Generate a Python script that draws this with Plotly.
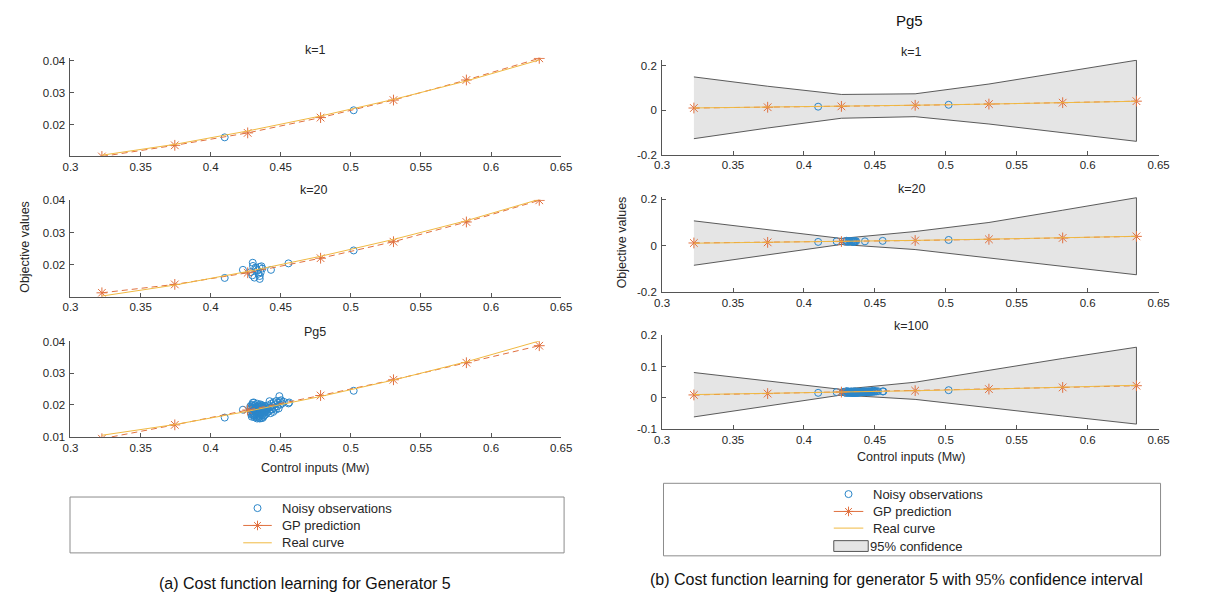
import plotly.graph_objects as go

W, H = 1205, 603

# Sampled control inputs (Mw) where the GP is evaluated
x_pts = [0.3224, 0.3744, 0.4264, 0.4784, 0.5304, 0.5824, 0.6344]

# True cost curve of generator 5
real_curve = [0.0104, 0.0138, 0.0180, 0.0227, 0.0279, 0.0337, 0.0403]

# GP posterior mean after k observations
gp_k1 = [0.0100, 0.0135, 0.0174, 0.0222, 0.0277, 0.0340, 0.0408]
gp_k20 = [0.0114, 0.0140, 0.0176, 0.0221, 0.0272, 0.0333, 0.0400]
gp_k100 = [0.0093, 0.0137, 0.0184, 0.0230, 0.0280, 0.0334, 0.0388]

# 95% confidence bounds
ci_up_k1 = [0.150, 0.108, 0.071, 0.074, 0.118, 0.170, 0.225]
ci_lo_k1 = [-0.128, -0.080, -0.036, -0.029, -0.062, -0.100, -0.140]
ci_up_k20 = [0.107, 0.070, 0.031, 0.061, 0.100, 0.153, 0.207]
ci_lo_k20 = [-0.085, -0.040, 0.005, -0.017, -0.055, -0.090, -0.126]
ci_up_k100 = [0.081, 0.054, 0.027, 0.050, 0.089, 0.126, 0.162]
ci_lo_k100 = [-0.061, -0.027, 0.009, -0.005, -0.032, -0.058, -0.084]

# Noisy observations in sampling order (first 2, 20, 100 used per panel)
obs_x = [
    0.4100, 0.5020, 0.4230, 0.4300, 0.4302, 0.4285, 0.4297, 0.4320, 0.4335, 0.4348,
    0.4357, 0.4350, 0.4350, 0.4312, 0.4430, 0.4555, 0.4368, 0.4340, 0.4325, 0.4362,
    0.4280, 0.4290, 0.4295, 0.4305, 0.4310, 0.4315, 0.4318, 0.4322, 0.4328, 0.4330,
    0.4333, 0.4338, 0.4340, 0.4343, 0.4345, 0.4352, 0.4355, 0.4360, 0.4363, 0.4366,
    0.4370, 0.4373, 0.4377, 0.4380, 0.4385, 0.4388, 0.4392, 0.4395, 0.4398, 0.4288,
    0.4293, 0.4300, 0.4308, 0.4312, 0.4326, 0.4331, 0.4336, 0.4347, 0.4350, 0.4358,
    0.4362, 0.4368, 0.4371, 0.4375, 0.4382, 0.4390, 0.4283, 0.4298, 0.4303, 0.4318,
    0.4342, 0.4354, 0.4365, 0.4378, 0.4402, 0.4405, 0.4410, 0.4415, 0.4420, 0.4425,
    0.4428, 0.4433, 0.4438, 0.4442, 0.4446, 0.4450, 0.4455, 0.4460, 0.4465, 0.4470,
    0.4475, 0.4480, 0.4485, 0.4490, 0.4494, 0.4498, 0.4503, 0.4510, 0.4522, 0.4560,
]
obs_y = [
    0.0160, 0.0245, 0.0185, 0.0207, 0.0197, 0.0178, 0.0168, 0.0192, 0.0183, 0.0194,
    0.0177, 0.0166, 0.0157, 0.0161, 0.0185, 0.0205, 0.0189, 0.0173, 0.0187, 0.0196,
    0.0185, 0.0192, 0.0201, 0.0175, 0.0188, 0.0199, 0.0170, 0.0181, 0.0163, 0.0195,
    0.0204, 0.0176, 0.0186, 0.0160, 0.0198, 0.0171, 0.0183, 0.0158, 0.0200, 0.0168,
    0.0180, 0.0192, 0.0163, 0.0175, 0.0187, 0.0197, 0.0170, 0.0181, 0.0192, 0.0172,
    0.0163, 0.0183, 0.0208, 0.0167, 0.0174, 0.0157, 0.0191, 0.0179, 0.0188, 0.0195,
    0.0174, 0.0186, 0.0159, 0.0197, 0.0167, 0.0184, 0.0196, 0.0189, 0.0170, 0.0193,
    0.0166, 0.0202, 0.0182, 0.0190, 0.0176, 0.0188, 0.0199, 0.0180, 0.0212, 0.0193,
    0.0174, 0.0204, 0.0186, 0.0197, 0.0178, 0.0209, 0.0191, 0.0202, 0.0185, 0.0213,
    0.0196, 0.0207, 0.0189, 0.0228, 0.0212, 0.0201, 0.0215, 0.0205, 0.0210, 0.0208,
]

x_ticks = [0.3, 0.35, 0.4, 0.45, 0.5, 0.55, 0.6, 0.65]
x_tick_text = ["0.3", "0.35", "0.4", "0.45", "0.5", "0.55", "0.6", "0.65"]

C_OBS = "#2b86c9"
C_GP = "#e0703f"
C_REAL = "#f0b942"
C_AXIS = "#555555"
C_TEXT = "#262626"
FONT = "Liberation Sans, Arial, sans-serif"


def px(x):
    return x / W


def py(y):
    return 1 - y / H


left_x = (63.5, 562)
right_x = (664.6, 1169)
panels = [
    # left column
    dict(xs=left_x, ys=(52.75, 153.2), yr=[0.0101, 0.0410], yt=[0.02, 0.03, 0.04],
         ytt=["0.02", "0.03", "0.04"], n=2, gp=gp_k1, ci=None),
    dict(xs=left_x, ys=(197.6, 296.6), yr=[0.0102, 0.0402], yt=[0.02, 0.03, 0.04],
         ytt=["0.02", "0.03", "0.04"], n=20, gp=gp_k20, ci=None),
    dict(xs=left_x, ys=(342.1, 439.9), yr=[0.0098, 0.0402], yt=[0.01, 0.02, 0.03, 0.04],
         ytt=["0.01", "0.02", "0.03", "0.04"], n=100, gp=gp_k100, ci=None),
    # right column
    dict(xs=right_x, ys=(54.9, 151.7), yr=[-0.2, 0.227], yt=[-0.2, 0, 0.2],
         ytt=["-0.2", "0", "0.2"], n=2, gp=gp_k1, ci=(ci_up_k1, ci_lo_k1)),
    dict(xs=right_x, ys=(194.9, 291.7), yr=[-0.2, 0.21], yt=[-0.2, 0, 0.2],
         ytt=["-0.2", "0", "0.2"], n=20, gp=gp_k20, ci=(ci_up_k20, ci_lo_k20)),
    dict(xs=right_x, ys=(336.0, 431.7), yr=[-0.1, 0.2], yt=[-0.1, 0, 0.1, 0.2],
         ytt=["-0.1", "0", "0.1", "0.2"], n=100, gp=gp_k100, ci=(ci_up_k100, ci_lo_k100)),
]

fig = go.Figure()
layout_axes = {}

for i, p in enumerate(panels, start=1):
    key = "" if i == 1 else str(i)
    xa, ya = f"x{key}", f"y{key}"
    if p["ci"] is not None:
        up, lo = p["ci"]
        fig.add_trace(go.Scatter(
            x=x_pts + x_pts[::-1], y=up + lo[::-1], xaxis=xa, yaxis=ya,
            mode="lines", fill="toself", fillcolor="#e5e5e5",
            line=dict(color="#333333", width=0.8), hoverinfo="skip", showlegend=False))
    fig.add_trace(go.Scatter(
        x=obs_x[:p["n"]], y=obs_y[:p["n"]], xaxis=xa, yaxis=ya, mode="markers",
        marker=dict(symbol="circle-open", size=7, color=C_OBS, line=dict(width=1, color=C_OBS)),
        showlegend=False))
    fig.add_trace(go.Scatter(
        x=x_pts, y=p["gp"], xaxis=xa, yaxis=ya, mode="lines+markers",
        line=dict(color=C_GP, width=1, dash="6px,4px"),
        marker=dict(symbol="asterisk-open", size=9, color=C_GP, line=dict(width=1, color=C_GP)),
        showlegend=False))
    fig.add_trace(go.Scatter(
        x=x_pts, y=real_curve, xaxis=xa, yaxis=ya, mode="lines",
        line=dict(color=C_REAL, width=1), showlegend=False))

    layout_axes[f"xaxis{key}"] = dict(
        domain=[px(p["xs"][0]), px(p["xs"][1])], range=[0.3, 0.65], anchor=ya,
        tickvals=x_ticks, ticktext=x_tick_text, showline=True, linecolor=C_AXIS, linewidth=1,
        ticks="inside", ticklen=4, tickcolor=C_AXIS, showgrid=False, zeroline=False,
        tickfont=dict(size=11.5, color=C_TEXT, family=FONT), fixedrange=True)
    layout_axes[f"yaxis{key}"] = dict(
        domain=[py(p["ys"][1]), py(p["ys"][0])], range=p["yr"], anchor=xa,
        tickvals=p["yt"], ticktext=p["ytt"], showline=True, linecolor=C_AXIS, linewidth=1,
        ticks="inside", ticklen=4, tickcolor=C_AXIS, showgrid=False, zeroline=False,
        tickfont=dict(size=11.5, color=C_TEXT, family=FONT), ticklabelstandoff=2, fixedrange=True)

# Overlay axis in pixel units for the legend glyphs
layout_axes["xaxis7"] = dict(domain=[0, 1], range=[0, W], visible=False, fixedrange=True, anchor="y7")
layout_axes["yaxis7"] = dict(domain=[0, 1], range=[H, 0], visible=False, fixedrange=True, anchor="x7")

leg_a = dict(box=(63, 501, 565, 558), glyph_x=(239, 268), text_x=276, rows=[512.3, 530, 547.7])
leg_b = dict(box=(666, 487, 1171, 561), glyph_x=(839, 869), text_x=877, rows=[498, 515.7, 532.7, 551])

annotations = []
shapes = []


def text(x, y, s, size=12, anchor="center", angle=0, yanchor="middle"):
    annotations.append(dict(
        x=px(x), y=py(y), xref="paper", yref="paper", text=s, showarrow=False,
        xanchor=anchor, yanchor=yanchor, textangle=angle,
        font=dict(size=size, color=C_TEXT if size < 15 else "#111111", family=FONT)))


for leg, n_rows in ((leg_a, 3), (leg_b, 4)):
    x0, y0, x1, y1 = leg["box"]
    shapes.append(dict(type="rect", xref="paper", yref="paper",
                       x0=px(x0), y0=py(y1), x1=px(x1), y1=py(y0),
                       line=dict(color="#8c8c8c", width=1), fillcolor="rgba(0,0,0,0)"))
    gx0, gx1 = leg["glyph_x"]
    gxm = (gx0 + gx1) / 2
    r = leg["rows"]
    fig.add_trace(go.Scatter(
        x=[gxm], y=[r[0]], xaxis="x7", yaxis="y7", mode="markers",
        marker=dict(symbol="circle-open", size=7, color=C_OBS, line=dict(width=1, color=C_OBS)),
        showlegend=False, hoverinfo="skip"))
    fig.add_trace(go.Scatter(
        x=[gx0, gxm, gx1], y=[r[1]] * 3, xaxis="x7", yaxis="y7", mode="lines",
        line=dict(color=C_GP, width=1), showlegend=False, hoverinfo="skip"))
    fig.add_trace(go.Scatter(
        x=[gxm], y=[r[1]], xaxis="x7", yaxis="y7", mode="markers",
        marker=dict(symbol="asterisk-open", size=8, color=C_GP, line=dict(width=1, color=C_GP)),
        showlegend=False, hoverinfo="skip"))
    fig.add_trace(go.Scatter(
        x=[gx0, gx1], y=[r[2]] * 2, xaxis="x7", yaxis="y7", mode="lines",
        line=dict(color=C_REAL, width=1), showlegend=False, hoverinfo="skip"))
    tx = leg["text_x"]
    text(tx, r[0], "Noisy observations", 13, "left")
    text(tx, r[1], "GP prediction", 13, "left")
    text(tx, r[2], "Real curve", 13, "left")
    if n_rows == 4:
        shapes.append(dict(type="rect", xref="paper", yref="paper",
                           x0=px(gx0), y0=py(r[3] + 5.5), x1=px(gx1 + 5), y1=py(r[3] - 5.5),
                           line=dict(color="#555555", width=1), fillcolor="#e5e5e5"))
        text(tx - 3, r[3], "95% confidence", 13, "left")

# Panel titles
text(312, 45, "k=1", 12.5)
text(311, 187.3, "k=20", 12.5)
text(312, 332.3, "Pg5", 12.5)
text(918, 46.7, "k=1", 12.5)
text(918, 186.7, "k=20", 12.5)
text(917, 326, "k=100", 12.5)
text(916, 15, "Pg5", 15)

# Axis titles
text(17, 246, "Objective values", 12.5, angle=-90)
text(624, 241, "Objective values", 12.5, angle=-90)
text(312, 471, "Control inputs (Mw)", 12.5)
text(917, 460, "Control inputs (Mw)", 12.5)

# Captions
text(302, 589, "(a) Cost function learning for Generator 5", 16)
text(903, 585, "(b) Cost function learning for generator 5 with "
     "<span style=\"font-family:'Liberation Serif', serif\">95%</span> confidence interval", 16)

fig.update_layout(
    width=W, height=H, margin=dict(l=0, r=0, t=0, b=0),
    paper_bgcolor="white", plot_bgcolor="rgba(0,0,0,0)", showlegend=False,
    font=dict(family=FONT, color=C_TEXT),
    annotations=annotations, shapes=shapes, **layout_axes)

fig.write_html("out.html")
